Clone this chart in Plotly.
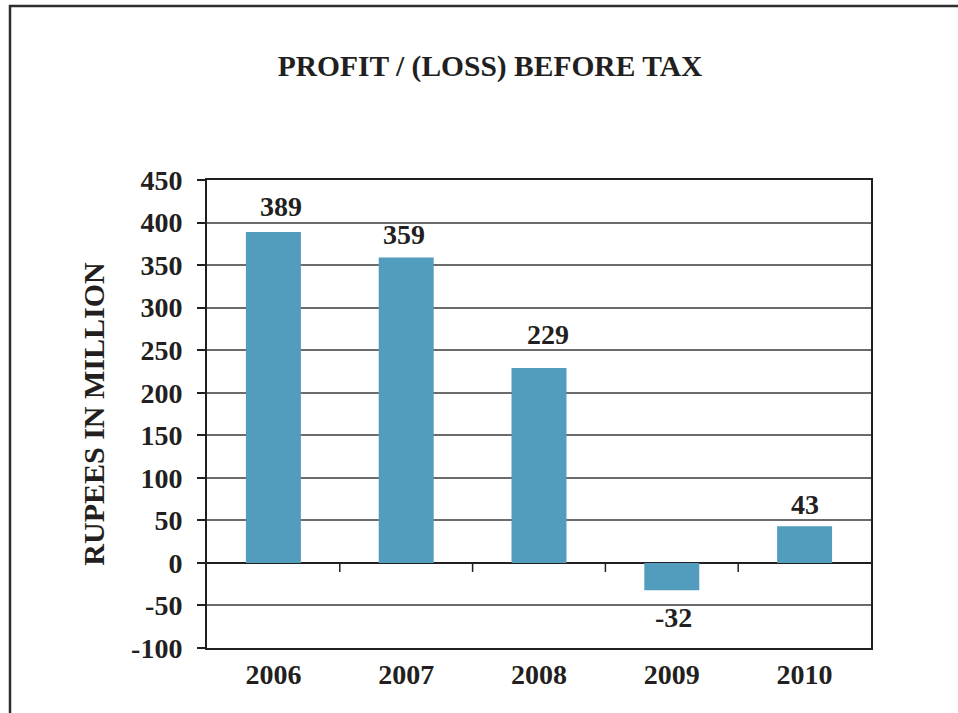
import plotly.graph_objects as go

# ---- data ----
years = ["2006", "2007", "2008", "2009", "2010"]
profit = [389, 359, 229, -32, 43]
y_ticks = [-100, -50, 0, 50, 100, 150, 200, 250, 300, 350, 400, 450]

# ---- styling ----
BAR = "#529DBD"
DARK = "#231F20"
GRID = "#6b6b6b"
FONT = "Liberation Serif"
label_yshift = [8, 5, 16, -10, 4]   # px offsets of value labels
label_xshift = [8, -2, 9, 2, 0]

y_min, y_max = y_ticks[0], y_ticks[-1]
W, H = 958, 713
ml, mr, mt, mb = 207, 87, 180, 65

pos = list(range(len(years)))

fig = go.Figure()
fig.add_trace(go.Bar(
    x=pos, y=profit, marker=dict(color=BAR, line=dict(width=0)),
    width=0.414, hovertext=years, hoverinfo="text+y", showlegend=False,
))

for i, v in enumerate(profit):
    fig.add_annotation(
        x=pos[i], y=v, text=str(v), showarrow=False,
        yanchor="bottom" if v >= 0 else "top",
        yshift=label_yshift[i], xshift=label_xshift[i],
        font=dict(family=FONT, size=28, color=DARK, weight="bold"),
    )

# category boundary ticks hanging from the zero line
for b in [p + 0.5 for p in pos[:-1]]:
    fig.add_shape(
        type="line", xref="x", yref="y", x0=b, x1=b,
        ysizemode="pixel", yanchor=0, y0=0, y1=-9,
        line=dict(color=DARK, width=1.5),
    )

# outer frame
pw, ph = W - ml - mr, H - mt - mb
fig.add_shape(
    type="rect", xref="paper", yref="paper",
    x0=(10 - ml) / pw, x1=(W + 20 - ml) / pw,
    y0=-(mb + 20) / ph, y1=(H - 6 - mb) / ph,
    line=dict(color="#2e2e2e", width=2.5), fillcolor="rgba(0,0,0,0)", layer="below",
)

fig.update_layout(
    width=W, height=H,
    margin=dict(l=ml, r=mr, t=mt, b=mb),
    paper_bgcolor="white", plot_bgcolor="white",
    title=dict(
        text="PROFIT / (LOSS) BEFORE TAX",
        font=dict(family=FONT, size=29.5, color=DARK, weight="bold"),
        x=490 / W, xref="container", xanchor="center",
        y=1 - 66 / H, yref="container", yanchor="middle",
    ),
    xaxis=dict(
        range=[-0.5, len(years) - 0.5], tickmode="array",
        tickvals=pos, ticktext=years,
        showgrid=False, zeroline=False,
        showline=True, linecolor=DARK, linewidth=2, mirror=True,
        ticks="", tickfont=dict(family=FONT, size=28, color=DARK, weight="bold"),
        ticklabelstandoff=0,
    ),
    yaxis=dict(
        range=[y_min, y_max], tickmode="array", tickvals=y_ticks,
        ticktext=[str(t) for t in y_ticks],
        showgrid=True, gridcolor=GRID, gridwidth=1.5,
        zeroline=True, zerolinecolor=DARK, zerolinewidth=1.5,
        showline=True, linecolor=DARK, linewidth=2, mirror=True,
        ticks="outside", ticklen=8, tickwidth=1.5, tickcolor=DARK,
        tickfont=dict(family=FONT, size=28, color=DARK, weight="bold"),
        ticklabelstandoff=9,
        title=dict(text="RUPEES IN MILLION", standoff=18,
                   font=dict(family=FONT, size=30, color=DARK, weight="bold")),
    ),
)

fig.write_html("out.html", config={"displayModeBar": False},
               post_script="document.body.style.margin='0px';")
